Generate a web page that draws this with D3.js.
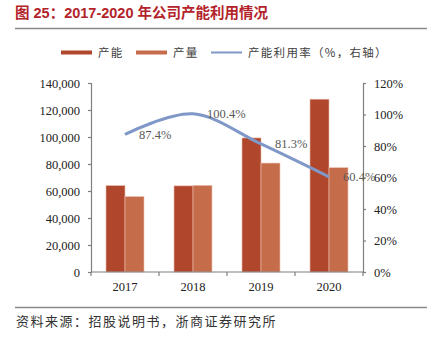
<!DOCTYPE html>
<html>
<head>
<meta charset="utf-8">
<script src="https://cdn.jsdelivr.net/npm/d3@7"></script>
<style>
  body { margin: 0; background: #fff; }
  svg { display: block; }
</style>
</head>
<body>
<svg id="chart"></svg>
<script>
// Data
const years = ["2017", "2018", "2019", "2020"];
const capacity = [64000, 63800, 99300, 128000];
const production = [55900, 64200, 80700, 77300];
const utilization = [87.4, 100.4, 81.3, 60.4];
const leftTicks = [0, 20000, 40000, 60000, 80000, 100000, 120000, 140000];
const rightTicks = [0, 20, 40, 60, 80, 100, 120];

const W = 432, H = 345;
const margin = {top: 83, right: 69, bottom: 73, left: 91},
    width = W - margin.left - margin.right,
    height = H - margin.top - margin.bottom;

const svg = d3.select("#chart")
    .attr("width", W)
    .attr("height", H);

const serif = "'Liberation Serif', 'Times New Roman', serif";
const cjk = "'Noto Sans CJK SC', sans-serif";

// Title and rules
svg.append("text")
    .attr("x", 15)
    .attr("y", 18)
    .attr("fill", "#b3232a")
    .style("font-family", "'Liberation Sans', 'Noto Sans CJK SC', sans-serif")
    .style("font-size", "14.5px")
    .style("font-weight", "bold")
    .text("图 25：2017-2020 年公司产能利用情况");

svg.append("line")
    .attr("x1", 15).attr("x2", 427)
    .attr("y1", 28.5).attr("y2", 28.5)
    .attr("stroke", "#8a8a8a").attr("stroke-width", 1.5);

svg.append("line")
    .attr("x1", 15).attr("x2", 427)
    .attr("y1", 307.5).attr("y2", 307.5)
    .attr("stroke", "#8a8a8a").attr("stroke-width", 1.5);

svg.append("text")
    .attr("x", 16)
    .attr("y", 326)
    .attr("fill", "#333")
    .style("font-family", cjk)
    .style("font-size", "13px")
    .style("letter-spacing", "1.5px")
    .text("资料来源：招股说明书，浙商证券研究所");

const g = svg.append("g")
    .attr("transform", `translate(${margin.left},${margin.top})`);

// Scales
const x = d3.scaleBand()
    .domain(years)
    .range([0, width]);

const y = d3.scaleLinear()
    .domain([0, 140000])
    .range([height, 0]);

const y2 = d3.scaleLinear()
    .domain([0, 120])
    .range([height, 0]);

const barW = 19;
const colCap = "#b0462b", colProd = "#c56c4b", colLine = "#7f98c8";

// Bars
g.selectAll(".cap")
    .data(years)
    .enter()
    .append("rect")
    .attr("class", "cap")
    .attr("x", d => x(d) + x.bandwidth() / 2 - barW)
    .attr("y", (d, i) => y(capacity[i]))
    .attr("width", barW)
    .attr("height", (d, i) => height - y(capacity[i]))
    .attr("fill", colCap)
    .attr("stroke", "#e8b9a8")
    .attr("stroke-width", 0.6);

g.selectAll(".prod")
    .data(years)
    .enter()
    .append("rect")
    .attr("class", "prod")
    .attr("x", d => x(d) + x.bandwidth() / 2)
    .attr("y", (d, i) => y(production[i]))
    .attr("width", barW)
    .attr("height", (d, i) => height - y(production[i]))
    .attr("fill", colProd)
    .attr("stroke", "#eec3b2")
    .attr("stroke-width", 0.6);

// Axes
function styleAxis(sel) {
    sel.selectAll("path, line").attr("stroke", "#7f7f7f").attr("stroke-width", 1.2);
    sel.selectAll("text")
        .attr("fill", "#222")
        .style("font-family", serif)
        .style("font-size", "12.5px");
}

g.append("g")
    .call(d3.axisLeft(y).tickValues(leftTicks).tickSize(3).tickSizeOuter(3).tickPadding(8)
        .tickFormat(d3.format(",")))
    .call(styleAxis);

g.append("g")
    .attr("transform", `translate(${width},0)`)
    .call(d3.axisRight(y2).tickValues(rightTicks).tickSize(3).tickSizeOuter(3).tickPadding(8)
        .tickFormat(d => d + "%"))
    .call(styleAxis);

const xAxis = g.append("g")
    .attr("transform", `translate(0,${height})`)
    .call(d3.axisBottom(x).tickSize(0).tickPadding(10))
    .call(styleAxis);
xAxis.select(".domain").attr("d", `M0,0H${width}`);
xAxis.selectAll(".btick")
    .data(d3.range(years.length + 1))
    .enter()
    .append("line")
    .attr("class", "btick")
    .attr("x1", i => i * x.step()).attr("x2", i => i * x.step())
    .attr("y1", 0).attr("y2", 4)
    .attr("stroke", "#7f7f7f").attr("stroke-width", 1.2);

// Utilization line
const line = d3.line()
    .x((d, i) => x(years[i]) + x.bandwidth() / 2)
    .y(d => y2(d))
    .curve(d3.curveCardinal.tension(0));

g.append("path")
    .datum(utilization)
    .attr("d", line)
    .attr("fill", "none")
    .attr("stroke", colLine)
    .attr("stroke-width", 3);

g.selectAll(".lbl")
    .data(utilization)
    .enter()
    .append("text")
    .attr("class", "lbl")
    .attr("x", (d, i) => x(years[i]) + x.bandwidth() / 2 + 14)
    .attr("y", d => y2(d))
    .attr("dy", "0.35em")
    .attr("fill", "#595959")
    .style("font-family", serif)
    .style("font-size", "12.5px")
    .text(d => d.toFixed(1) + "%");

// Legend
const legend = svg.append("g").attr("transform", "translate(0,52.5)");
const items = [
    {label: "产能", color: colCap, x: 61, type: "bar"},
    {label: "产量", color: colProd, x: 136, type: "bar"},
    {label: "产能利用率（%，右轴）", color: colLine, x: 211, type: "line"}
];
items.forEach(it => {
    legend.append("rect")
        .attr("x", it.x)
        .attr("y", it.type === "bar" ? -2 : -1)
        .attr("width", 31)
        .attr("height", it.type === "bar" ? 4 : 2)
        .attr("fill", it.color);
    legend.append("text")
        .attr("x", it.x + 37)
        .attr("y", 0)
        .attr("dy", "0.38em")
        .attr("fill", "#404040")
        .style("font-family", cjk)
        .style("font-size", "11.5px")
        .style("letter-spacing", "1.3px")
        .text(it.label);
});
</script>
</body>
</html>
